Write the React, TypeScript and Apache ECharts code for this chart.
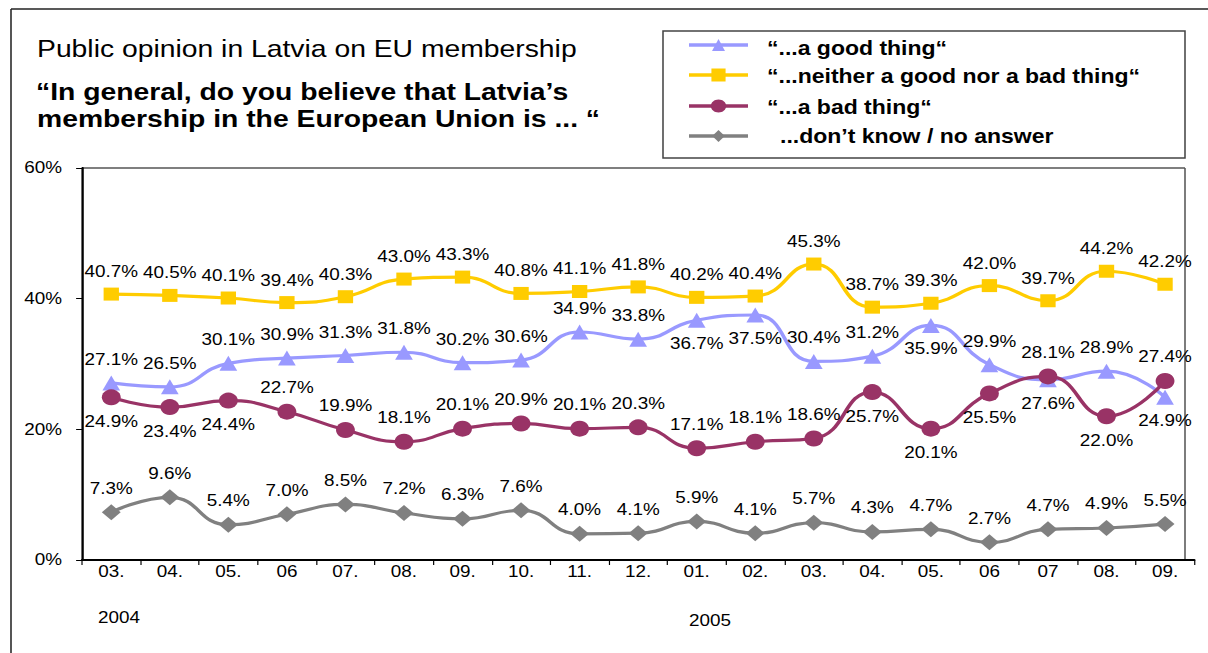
import React, { useEffect, useRef } from "react";
import * as echarts from "echarts";

const months = [
  "2004-03", "2004-04", "2004-05", "2004-06", "2004-07", "2004-08", "2004-09", "2004-10", "2004-11", "2004-12",
  "2005-01", "2005-02", "2005-03", "2005-04", "2005-05", "2005-06", "2005-07", "2005-08", "2005-09",
];
const monthLabels = ["03.", "04.", "05.", "06", "07.", "08.", "09.", "10.", "11.", "12.", "01.", "02.", "03.", "04.", "05.", "06", "07", "08.", "09."];
const yearLabels = ["2004", "2005"];
const yTicks = { min: 0, max: 60, interval: 20 };

const goodThing = [27.1, 26.5, 30.1, 30.9, 31.3, 31.8, 30.2, 30.6, 34.9, 33.8, 36.7, 37.5, 30.4, 31.2, 35.9, 29.9, 27.6, 28.9, 24.9];
const neitherThing = [40.7, 40.5, 40.1, 39.4, 40.3, 43.0, 43.3, 40.8, 41.1, 41.8, 40.2, 40.4, 45.3, 38.7, 39.3, 42.0, 39.7, 44.2, 42.2];
const badThing = [24.9, 23.4, 24.4, 22.7, 19.9, 18.1, 20.1, 20.9, 20.1, 20.3, 17.1, 18.1, 18.6, 25.7, 20.1, 25.5, 28.1, 22.0, 27.4];
const dontKnow = [7.3, 9.6, 5.4, 7.0, 8.5, 7.2, 6.3, 7.6, 4.0, 4.1, 5.9, 4.1, 5.7, 4.3, 4.7, 2.7, 4.7, 4.9, 5.5];

const seriesNames = ["“...a good thing“", "“...neither a good nor a bad thing“", "“...a bad thing“", "...don’t know / no answer"];

// label placement (style): T = above, B = below
const goodLabelPos = "TTTTTTTTTTBBTTBTBTB";
const neitherLabelPos = "TTTTTTTTTTTTTTTTTTT";
const badLabelPos = "BBBTTTTTTTTTTBBBTBT";
const dkLabelPos = "TTTTTTTTTTTTTTTTTTT";

const S = 1.18; // horizontal stretch of the reference picture
const PH = 653;
const W = 1208 / S;
const FONT = "'Liberation Sans', Arial, sans-serif";
const px = (x: number) => x / S;

const colors = ["#9999FF", "#FFCC00", "#993366", "#808080"];

function buildData(values: number[], pos: string) {
  return values.map((v, i) => ({
    value: v,
    label: { position: pos[i] === "B" ? "bottom" : "top" },
  }));
}

export default function App() {
  const ref = useRef<HTMLDivElement>(null);
  useEffect(() => {
    if (!ref.current) return;
    const chart = echarts.init(ref.current, undefined, { renderer: "svg" });

    const labelStyle = {
      show: true,
      distance: 8,
      fontSize: 16,
      color: "#000",
      fontFamily: FONT,
      formatter: (p: any) => Number(p.value).toFixed(1) + "%",
    };

    const mkSeries = (name: string, values: number[], pos: string, color: string, symbol: string, size: number, z: number) => ({
      name,
      type: "line",
      data: buildData(values, pos),
      smooth: 0.5,
      symbol,
      symbolSize: size,
      z,
      lineStyle: { color, width: 3.2 },
      itemStyle: { color },
      label: labelStyle,
      emphasis: { disabled: true },
    });

    const legendX1 = px(689);
    const legendX2 = px(748);
    const mx = (legendX1 + legendX2) / 2;
    const rowY = [45, 75, 106, 136];
    const textY = [48.5, 77, 107.5, 136.5];

    const legendGraphics: any[] = [
      {
        type: "rect",
        shape: { x: px(663), y: 31, width: px(1185) - px(663), height: 127 },
        style: { fill: "#fff", stroke: "#444", lineWidth: 1.3 },
        z: 10,
      },
    ];
    rowY.forEach((y, i) => {
      legendGraphics.push({
        type: "line",
        shape: { x1: legendX1, y1: y, x2: legendX2, y2: y },
        style: { stroke: colors[i], lineWidth: 3.5 },
        z: 11,
      });
    });
    legendGraphics.push(
      { type: "polygon", shape: { points: [[mx - 5.5, rowY[0] + 6], [mx + 5.5, rowY[0] + 6], [mx, rowY[0] - 6]] }, style: { fill: colors[0] }, z: 12 },
      { type: "rect", shape: { x: mx - 6, y: rowY[1] - 6.5, width: 12, height: 13 }, style: { fill: colors[1] }, z: 12 },
      { type: "ellipse", shape: { cx: mx, cy: rowY[2], rx: 6.5, ry: 6.5 }, style: { fill: colors[2] }, z: 12 },
      { type: "polygon", shape: { points: [[mx - 5.3, rowY[3]], [mx, rowY[3] - 6], [mx + 5.3, rowY[3]], [mx, rowY[3] + 6]] }, style: { fill: colors[3] }, z: 12 }
    );
    seriesNames.forEach((n, i) => {
      legendGraphics.push({
        type: "text",
        x: i === 3 ? px(780) : px(767),
        y: textY[i],
        style: { text: n, fill: "#000", font: `bold 19.5px ${FONT}`, verticalAlign: "middle", align: "left" },
        z: 12,
      });
    });

    const option: any = {
      animation: false,
      backgroundColor: "#fff",
      grid: { left: px(82), right: W - px(1194), top: 168, bottom: PH - 560, containLabel: false },
      xAxis: {
        type: "category",
        data: months,
        boundaryGap: true,
        axisLine: { lineStyle: { color: "#000", width: 2 } },
        axisTick: { show: true, interval: 0, length: 5, lineStyle: { color: "#000", width: 1 } },
        axisLabel: {
          interval: 0,
          margin: 4,
          fontSize: 16,
          color: "#000",
          fontFamily: FONT,
          formatter: (_v: string, i: number) => monthLabels[i],
        },
        splitLine: { show: false },
      },
      yAxis: {
        type: "value",
        min: yTicks.min,
        max: yTicks.max,
        interval: yTicks.interval,
        splitLine: { show: false },
        axisLine: { show: true, lineStyle: { color: "#000", width: 2 } },
        axisTick: { show: true, length: 5, lineStyle: { color: "#000", width: 1 } },
        axisLabel: { formatter: "{value}%", margin: 17, fontSize: 16, color: "#000", fontFamily: FONT },
      },
      series: [
        mkSeries(seriesNames[3], dontKnow, dkLabelPos, colors[3], "diamond", 16, 1),
        mkSeries(seriesNames[0], goodThing, goodLabelPos, colors[0], "triangle", 15, 2),
        mkSeries(seriesNames[1], neitherThing, neitherLabelPos, colors[1], "rect", 13, 3),
        mkSeries(seriesNames[2], badThing, badLabelPos, colors[2], "circle", 16, 4),
      ],
      graphic: [
        // outer frame
        { type: "line", shape: { x1: px(11), y1: 9, x2: W, y2: 9 }, style: { stroke: "#222", lineWidth: 1.5 } },
        { type: "line", shape: { x1: px(11), y1: 9, x2: px(11), y2: PH }, style: { stroke: "#222", lineWidth: 1.3 } },
        // plot area border (top, right)
        { type: "line", shape: { x1: px(82), y1: 168, x2: px(1185), y2: 168 }, style: { stroke: "#555", lineWidth: 1.3 } },
        { type: "line", shape: { x1: px(1185), y1: 168, x2: px(1185), y2: 560 }, style: { stroke: "#555", lineWidth: 1.3 } },
        // titles
        {
          type: "text",
          x: px(37),
          y: 48.5,
          style: { text: "Public opinion in Latvia on EU membership", fill: "#000", font: `24px ${FONT}`, verticalAlign: "middle" },
        },
        {
          type: "text",
          x: px(36),
          y: 91.5,
          style: { text: "“In general, do you believe that Latvia’s", fill: "#000", font: `bold 24px ${FONT}`, verticalAlign: "middle" },
        },
        {
          type: "text",
          x: px(37),
          y: 119,
          style: { text: "membership in the European Union is ... “", fill: "#000", font: `bold 24px ${FONT}`, verticalAlign: "middle" },
        },
        // years
        { type: "text", x: px(98), y: 618, style: { text: yearLabels[0], fill: "#000", font: `16px ${FONT}`, verticalAlign: "middle" } },
        { type: "text", x: px(689), y: 621, style: { text: yearLabels[1], fill: "#000", font: `16px ${FONT}`, verticalAlign: "middle" } },
        ...legendGraphics,
      ],
    };

    chart.setOption(option);
    return () => chart.dispose();
  }, []);

  return (
    <div
      ref={ref}
      style={{
        position: "fixed",
        left: 0,
        top: 0,
        width: W,
        height: PH,
        transform: `scaleX(${S})`,
        transformOrigin: "0 0",
        background: "#fff",
      }}
    />
  );
}
